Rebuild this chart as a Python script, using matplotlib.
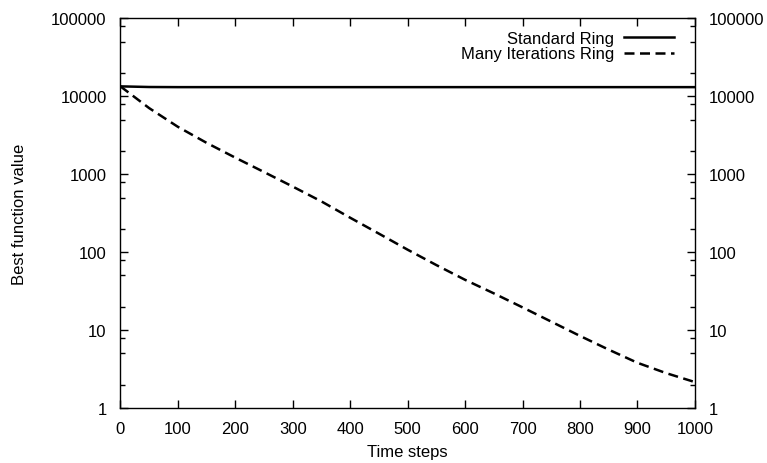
import numpy as np
import matplotlib
matplotlib.use('Agg')
import matplotlib.pyplot as plt
from matplotlib.ticker import LogLocator, FuncFormatter, NullFormatter, MultipleLocator

plt.rcParams['font.family'] = ['Liberation Sans', 'DejaVu Sans']

steps = [0, 50, 100, 150, 200, 250, 300, 350, 400, 450, 500,
         550, 600, 650, 700, 750, 800, 850, 900, 950, 1000]
standard_ring = [13300, 13050, 13000, 13000, 13000, 13000, 13000, 13000, 13000, 13000, 13000,
                 13000, 13000, 13000, 13000, 13000, 13000, 13000, 13000, 13000, 13000]
many_iter_ring = [13300, 7000, 4030, 2510, 1620, 1060, 690, 445, 275, 172, 107,
                  68, 44, 29.5, 19.5, 12.8, 8.4, 5.6, 3.8, 2.8, 2.15]

fig = plt.figure(figsize=(7.67, 4.64), dpi=100)
ax = fig.add_axes([0.157, 0.1185, 0.749, 0.8405])

ax.plot(steps, standard_ring, color='black', linewidth=1.8, label='Standard Ring')
ax.plot(steps, many_iter_ring, color='black', linewidth=1.8, linestyle=(0, (4, 2.2)),
        label='Many Iterations Ring')

ax.set_yscale('log')
ax.set_xlim(0, 1000)
ax.set_ylim(1, 100000)
ax.xaxis.set_major_locator(MultipleLocator(100))
ax.yaxis.set_major_locator(LogLocator(base=10))
ax.yaxis.set_minor_locator(LogLocator(base=10, subs=[2, 5, 8]))
ax.yaxis.set_major_formatter(FuncFormatter(lambda v, p: '%d' % round(v)))
ax.yaxis.set_minor_formatter(NullFormatter())

ax.tick_params(which='both', direction='in', top=True, right=True, labelright=True,
               labelsize=12, width=1.0)
ax.tick_params(which='major', length=6)
ax.tick_params(axis='y', which='major', pad=10)
ax.tick_params(axis='x', which='major', pad=9)
ax.tick_params(which='minor', length=3.5)
for s in ax.spines.values():
    s.set_linewidth(1.0)

ax.set_xlabel('Time steps', fontsize=12, labelpad=6)
ax.set_ylabel('Best function value', fontsize=12, labelpad=17)

ax.legend(loc='upper right', bbox_to_anchor=(0.985, 1.0), frameon=False, markerfirst=False,
          fontsize=12, handlelength=3.0, handletextpad=0.6, labelspacing=0.05,
          borderaxespad=0.35)

fig.savefig('out.png', dpi=100)
